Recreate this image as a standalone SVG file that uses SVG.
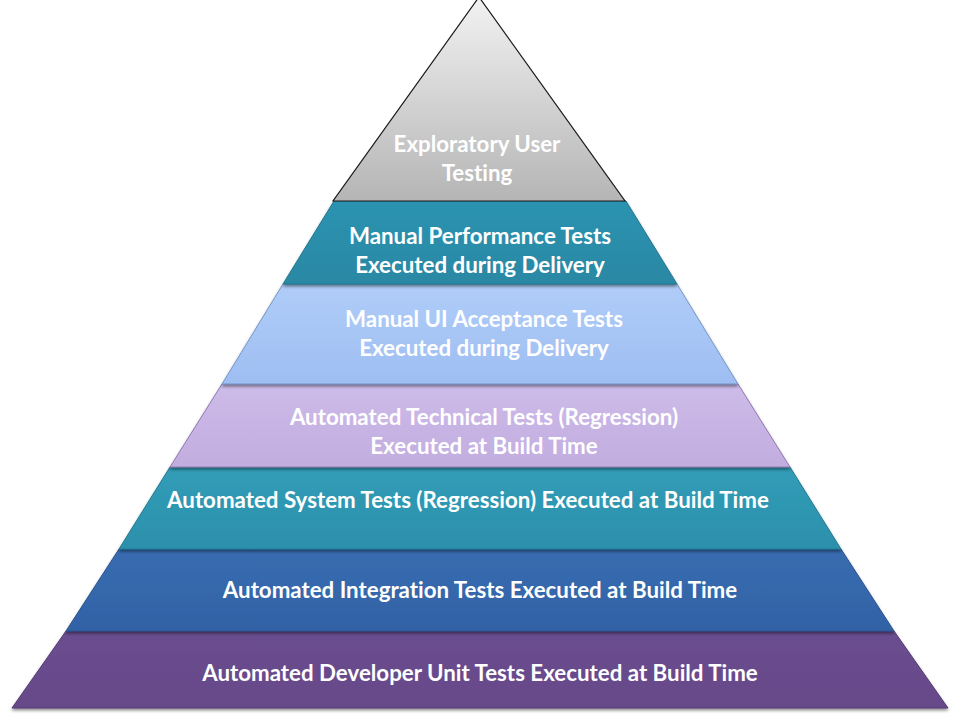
<svg xmlns="http://www.w3.org/2000/svg" width="960" height="720" viewBox="0 0 960 720">
  <style>
    .lbl { font-family: Lato, "Liberation Sans", sans-serif; font-weight: bold; font-size: 22.3px; fill: #ffffff; text-anchor: middle; font-variant-ligatures: none; }
    .layer { filter: url(#shadow); stroke-width: 1; }
  </style>
  <defs>
    <filter id="shadow" x="-5%" y="-10%" width="110%" height="130%">
      <feDropShadow dx="0" dy="2" stdDeviation="1.5" flood-color="#000" flood-opacity="0.45"/>
    </filter>
    <linearGradient id="gGray" x1="0" y1="0" x2="0" y2="1">
      <stop offset="0" stop-color="#f2f2f2"/>
      <stop offset="1" stop-color="#b5b5b5"/>
    </linearGradient>
    <linearGradient id="gTeal2" x1="0" y1="0" x2="0" y2="1">
      <stop offset="0" stop-color="#2c93b0"/>
      <stop offset="1" stop-color="#2a88a4"/>
    </linearGradient>
    <linearGradient id="gBlueL" x1="0" y1="0" x2="0" y2="1">
      <stop offset="0" stop-color="#b0cdf8"/>
      <stop offset="1" stop-color="#9ebef2"/>
    </linearGradient>
    <linearGradient id="gLav" x1="0" y1="0" x2="0" y2="1">
      <stop offset="0" stop-color="#cdbbe9"/>
      <stop offset="1" stop-color="#c2addf"/>
    </linearGradient>
    <linearGradient id="gTeal5" x1="0" y1="0" x2="0" y2="1">
      <stop offset="0" stop-color="#319db8"/>
      <stop offset="1" stop-color="#2c90ab"/>
    </linearGradient>
    <linearGradient id="gBlue" x1="0" y1="0" x2="0" y2="1">
      <stop offset="0" stop-color="#386cb0"/>
      <stop offset="1" stop-color="#3262a6"/>
    </linearGradient>
    <linearGradient id="gPurp" x1="0" y1="0" x2="0" y2="1">
      <stop offset="0" stop-color="#6b4e90"/>
      <stop offset="1" stop-color="#664888"/>
    </linearGradient>
  </defs>

  <g id="layer-unit">
    <polygon class="layer" points="66,631 894,631 948,708 12,708" fill="url(#gPurp)" stroke="#553a74"/>
    <text class="lbl" x="480" y="681">Automated Developer Unit Tests Executed at Build Time</text>
  </g>
  <g id="layer-integration">
    <polygon class="layer" points="119,549 841,549 894,631 66,631" fill="url(#gBlue)" stroke="#2a5290"/>
    <text class="lbl" x="480" y="598">Automated Integration Tests Executed at Build Time</text>
  </g>
  <g id="layer-system">
    <polygon class="layer" points="170,467 790,467 841,549 119,549" fill="url(#gTeal5)" stroke="#247a93"/>
    <text class="lbl" x="468" y="508">Automated System Tests (Regression) Executed at Build Time</text>
  </g>
  <g id="layer-technical">
    <polygon class="layer" points="222,384 738,384 790,467 170,467" fill="url(#gLav)" stroke="#8f7ab0"/>
    <text class="lbl" x="484" y="425">Automated Technical Tests (Regression)</text>
    <text class="lbl" x="484" y="454">Executed at Build Time</text>
  </g>
  <g id="layer-ui-acceptance">
    <polygon class="layer" points="283,284 677,284 738,384 222,384" fill="url(#gBlueL)" stroke="#7595c8"/>
    <text class="lbl" x="484" y="327">Manual UI Acceptance Tests</text>
    <text class="lbl" x="484" y="356">Executed during Delivery</text>
  </g>
  <g id="layer-performance">
    <polygon class="layer" points="334,201 626,201 677,284 283,284" fill="url(#gTeal2)" stroke="#227690"/>
    <text class="lbl" x="480" y="244">Manual Performance Tests</text>
    <text class="lbl" x="480" y="273">Executed during Delivery</text>
  </g>
  <g id="layer-exploratory">
    <polygon points="479,-3 625,201 333,201" fill="url(#gGray)" stroke="#1a1a1a" stroke-width="1.2"/>
    <text class="lbl" x="477" y="152">Exploratory User</text>
    <text class="lbl" x="477" y="181">Testing</text>
  </g>
</svg>
